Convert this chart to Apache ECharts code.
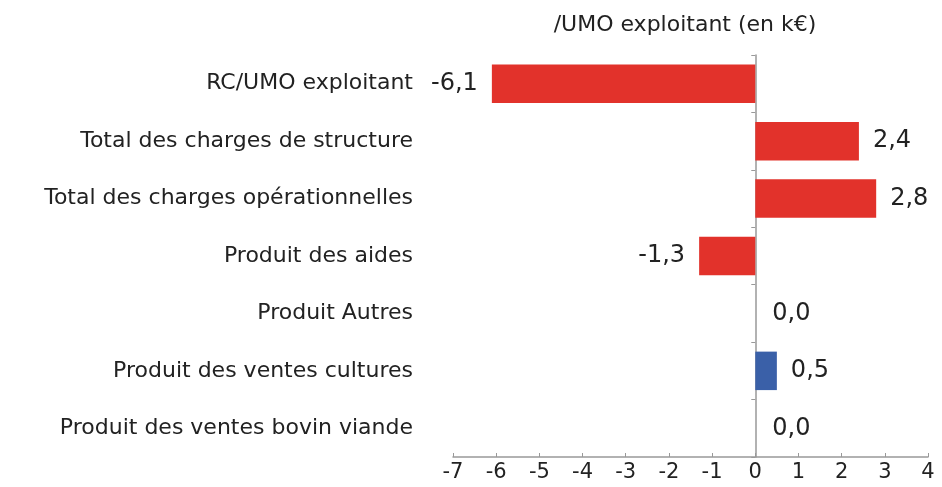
<!DOCTYPE html>
<html>
<head>
<meta charset="utf-8">
<script src="https://cdn.jsdelivr.net/npm/echarts@6/dist/echarts.min.js"></script>
<style>
  html, body { margin: 0; padding: 0; background: #fff; }
  #chart { width: 942px; height: 487px; }
</style>
</head>
<body>
<div id="chart"></div>
<script>
const categories = [
  'RC/UMO exploitant',
  'Total des charges de structure',
  'Total des charges opérationnelles',
  'Produit des aides',
  'Produit Autres',
  'Produit des ventes cultures',
  'Produit des ventes bovin viande',
];
const values = [-6.1, 2.4, 2.8, -1.3, 0.0, 0.5, 0.0];
const barColors = ['#e2322b', '#e2322b', '#e2322b', '#e2322b', '#e2322b', '#3a60a8', '#3a60a8'];
const xTicks = { min: -7, max: 4, interval: 1 };
const title = '/UMO exploitant (en k€)';

const FONT = 'DejaVu Sans, sans-serif';
const chart = echarts.init(document.getElementById('chart'));

function fmt(v) {
  return v.toFixed(1).replace('.', ',');
}

chart.setOption({
  animation: false,
  title: {
    text: title,
    left: 680,
    top: 9,
    textAlign: 'center',
    textStyle: { fontFamily: FONT, fontSize: 22, fontWeight: 'normal', color: '#222' },
  },
  grid: { left: 453, right: 14, top: 55, bottom: 30, containLabel: false, outerBoundsMode: 'none' },
  xAxis: {
    type: 'value',
    min: xTicks.min,
    max: xTicks.max,
    interval: xTicks.interval,
    axisLine: { show: true, lineStyle: { color: '#999', width: 1.5 } },
    axisTick: { show: true, inside: true, length: 4, lineStyle: { color: '#999' } },
    axisLabel: { color: '#222', fontSize: 21, fontFamily: FONT, margin: 5 },
    splitLine: { show: false },
  },
  yAxis: {
    type: 'category',
    inverse: true,
    data: categories,
    axisLine: { show: true, onZero: true, lineStyle: { color: '#999', width: 1.5 } },
    axisTick: { show: true, length: 4, lineStyle: { color: '#999' } },
    axisLabel: { color: '#222', fontSize: 22, fontFamily: FONT, margin: 40 },
  },
  series: [{
    type: 'bar',
    barWidth: '67%',
    data: values.map((v, i) => ({
      value: v,
      itemStyle: { color: barColors[i] },
      label: { position: v < 0 ? 'left' : 'right', distance: v === 0 ? 17 : 14 },
    })),
    label: {
      show: true,
      color: '#222',
      fontSize: 24,
      fontFamily: FONT,
      formatter: (p) => fmt(p.value),
    },
  }],
});

window.addEventListener('resize', () => chart.resize());
</script>
</body>
</html>
